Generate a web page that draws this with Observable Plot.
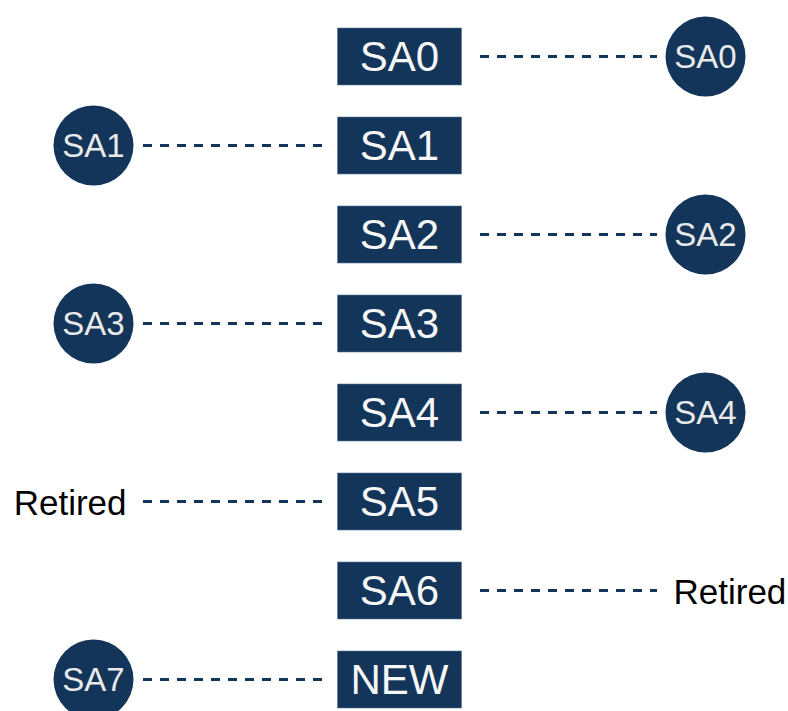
<!DOCTYPE html>
<html>
<head>
<meta charset="utf-8">
<script src="https://cdn.jsdelivr.net/npm/d3@7"></script>
<script src="https://cdn.jsdelivr.net/npm/@observablehq/plot@0.6"></script>
<style>
  html, body { margin: 0; padding: 0; background: #ffffff; }
  #chart svg { display: block; }
</style>
</head>
<body>
<div id="chart"></div>
<script>
// Center column: the slots
const slots = ["SA0", "SA1", "SA2", "SA3", "SA4", "SA5", "SA6", "NEW"];
// Left column labels (null = nothing)
const leftLabels = [null, "SA1", null, "SA3", null, "Retired", null, "SA7"];
// Right column labels
const rightLabels = ["SA0", null, "SA2", null, "SA4", null, "Retired", null];
const columns = ["left", "center", "right"];

const navy = "#13355a";

const left = slots.map((s, i) => ({slot: s, label: leftLabels[i]})).filter(d => d.label);
const right = slots.map((s, i) => ({slot: s, label: rightLabels[i]})).filter(d => d.label);
const isRetired = d => d.label === "Retired";

const rectSymbol = {
  draw(context) {
    context.rect(-62, -28.5, 124, 57);
  }
};

const font = "'Liberation Sans', Arial, sans-serif";

const chart = Plot.plot({
  width: 788,
  height: 711,
  margin: 0,
  style: {fontFamily: font, background: "#ffffff"},
  x: {type: "point", domain: columns, range: [92, 705], padding: 0, axis: null},
  y: {type: "point", domain: slots, range: [53.5, 681], padding: 0, axis: null},
  marks: [
    // dashed connectors
    Plot.ruleY(left, {y: "slot", x1: () => "left", x2: () => "center",
      insetLeft: 50, insetRight: 77, stroke: navy, strokeWidth: 3, strokeDasharray: "9,8"}),
    Plot.ruleY(right, {y: "slot", x1: () => "center", x2: () => "right",
      insetLeft: 81, insetRight: 48, stroke: navy, strokeWidth: 3, strokeDasharray: "9,8"}),
    // center boxes
    Plot.dot(slots, {x: () => "center", y: d => d, symbol: rectSymbol, fill: navy, stroke: "#5a7696", strokeWidth: 0.6}),
    Plot.text(slots, {x: () => "center", y: d => d, text: d => d, fill: "#f7f7f7", fontSize: 42, dy: 1}),
    // circles
    Plot.dot(left.filter(d => !isRetired(d)), {x: () => "left", y: "slot", r: 40, fill: navy}),
    Plot.dot(right.filter(d => !isRetired(d)), {x: () => "right", y: "slot", r: 40, fill: navy}),
    Plot.text(left.filter(d => !isRetired(d)), {x: () => "left", y: "slot", text: "label", fill: "#e9e9e9", fontSize: 33, dy: 1}),
    Plot.text(right.filter(d => !isRetired(d)), {x: () => "right", y: "slot", text: "label", fill: "#e9e9e9", fontSize: 33, dy: 1}),
    // retired labels
    Plot.text(left.filter(isRetired), {x: () => "left", y: "slot", text: "label", fill: "#000000", fontSize: 35, textAnchor: "end", dx: 33, dy: 2}),
    Plot.text(right.filter(isRetired), {x: () => "right", y: "slot", text: "label", fill: "#000000", fontSize: 35, textAnchor: "start", dx: -32, dy: 2})
  ]
});

document.getElementById("chart").appendChild(chart);
</script>
</body>
</html>
